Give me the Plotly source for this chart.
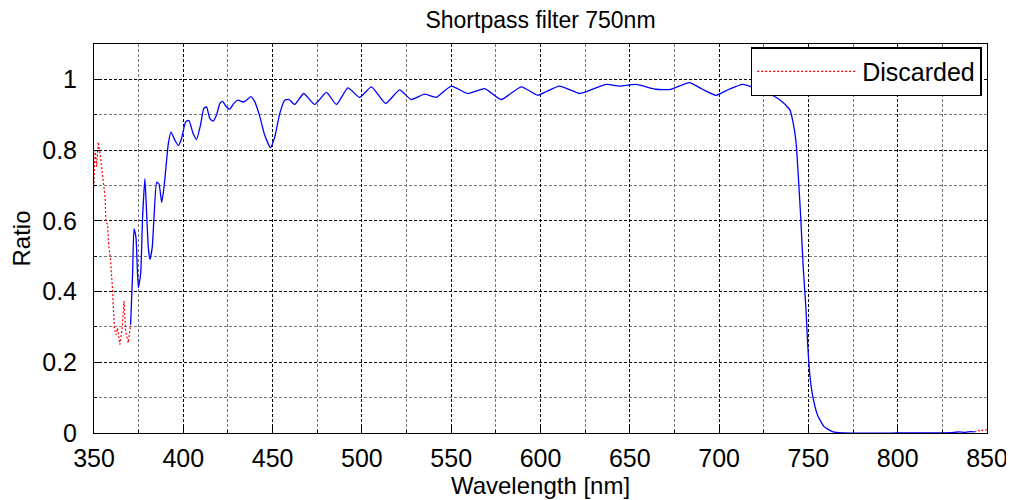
import plotly.graph_objects as go

# ---- data ----
blue_nm = [370.5, 371.6, 372.4, 373.5, 374.8, 376.1, 377.2, 378.5, 379.4, 380.4,
           381.3, 382.6, 383.6, 385.1, 386.4, 387.9, 389.2, 390.3, 391.6, 393.1,
           395.3, 397.2, 399.0, 401.3, 403.1, 405.5, 407.4, 409.6, 411.5, 413.0,
           414.9, 416.7, 418.6, 420.5, 422.0, 424.2, 426.1, 428.3, 430.7, 433.5,
           435.4, 437.8, 440.0, 442.9, 445.6, 448.8, 451.2, 454.0, 456.8, 459.2,
           462.4, 467.4, 473.6, 480.1, 485.7, 492.2, 498.7, 505.3, 513.3, 521.1,
           527.6, 535.1, 541.6, 550.0, 559.3, 568.7, 578.0, 589.2, 598.5, 603.1,
           610.6, 621.8, 624.6, 636.7, 644.1, 653.5, 664.6, 673.0, 683.3, 690.7,
           698.2, 705.6, 713.1, 720.6, 729.9, 735.5, 738.3, 739.7, 741.2, 743.0,
           744.5, 745.8, 747.1, 748.6, 749.5, 750.8, 752.3, 755.1, 758.8, 763.5,
           769.1, 800.0, 830.6, 834.0, 838.0, 841.0, 843.0]
blue_ratio = [0.307, 0.45, 0.577, 0.553, 0.411, 0.449, 0.61, 0.719, 0.629, 0.525,
              0.491, 0.525, 0.61, 0.709, 0.704, 0.652, 0.695, 0.752, 0.818, 0.851,
              0.828, 0.813, 0.832, 0.880, 0.884, 0.847, 0.830, 0.870, 0.918, 0.922,
              0.889, 0.882, 0.899, 0.932, 0.938, 0.922, 0.916, 0.932, 0.941, 0.936,
              0.941, 0.951, 0.937, 0.894, 0.842, 0.807, 0.837, 0.903, 0.941, 0.943,
              0.929, 0.960, 0.929, 0.963, 0.929, 0.976, 0.949, 0.979, 0.932, 0.970,
              0.943, 0.958, 0.949, 0.981, 0.960, 0.974, 0.943, 0.979, 0.955, 0.965,
              0.981, 0.960, 0.963, 0.986, 0.981, 0.986, 0.972, 0.972, 0.991, 0.972,
              0.955, 0.972, 0.986, 0.975, 0.955, 0.936, 0.922, 0.913, 0.884, 0.827,
              0.714, 0.600, 0.468, 0.354, 0.260, 0.164, 0.108, 0.051, 0.018, 0.004,
              0.0, 0.0, 0.001, 0.003, 0.002, 0.004, 0.003]

red_left_nm = [349.9, 350.6, 351.5, 352.4, 353.4, 354.3, 355.2, 356.2, 356.7, 357.6,
               358.2, 359.3, 360.3, 360.8, 361.4, 362.3, 363.2, 364.5, 365.8, 366.8,
               367.7, 369.2, 370.5]
red_left_ratio = [0.695, 0.80, 0.753, 0.823, 0.79, 0.75, 0.695, 0.667, 0.596, 0.59,
                  0.534, 0.487, 0.411, 0.363, 0.297, 0.278, 0.297, 0.25, 0.297, 0.373,
                  0.288, 0.255, 0.307]
red_right_nm = [843.0, 845.0, 846.5, 848.0, 850.0]
red_right_ratio = [0.003, 0.008, 0.004, 0.010, 0.008]

title_text = "Shortpass filter 750nm"
x_title = "Wavelength [nm]"
y_title = "Ratio"

FONT = "Liberation Sans, Arial, sans-serif"

fig = go.Figure()
fig.add_trace(go.Scatter(x=red_left_nm, y=red_left_ratio, mode="lines", name="Discarded",
                         line=dict(color="red", width=1.2, dash="2px,2px"),
                         legendgroup="d", showlegend=True))
fig.add_trace(go.Scatter(x=red_right_nm, y=red_right_ratio, mode="lines", name="Discarded",
                         line=dict(color="red", width=1.2, dash="2px,2px"),
                         legendgroup="d", showlegend=False))
fig.add_trace(go.Scatter(x=blue_nm, y=blue_ratio, mode="lines", name="Accepted",
                         line=dict(color="#0000ff", width=1.3, shape="spline", smoothing=0.5),
                         showlegend=False))

axis_common = dict(
    showline=True, linecolor="black", linewidth=1, mirror=True,
    ticks="inside", ticklen=6, tickcolor="black",
    showgrid=True, gridcolor="black", gridwidth=1.3, griddash="3px,2px",
    zeroline=False, automargin=False,
    tickfont=dict(family=FONT, size=25, color="black"),
    title_font=dict(family=FONT, size=24, color="black"),
)

fig.update_xaxes(range=[350, 850], tick0=350, dtick=50, title_text=x_title,
                 title_standoff=6, ticklabelstandoff=3,
                 minor=dict(dtick=25, showgrid=True, gridcolor="#777777", gridwidth=1,
                            griddash="3px,2px", ticks="inside", ticklen=3, tickcolor="black"),
                 **axis_common)
fig.update_yaxes(range=[0, 1.1], tick0=0, dtick=0.2, title_text=y_title,
                 title_standoff=12, ticklabelstandoff=11,
                 minor=dict(dtick=0.1, showgrid=True, gridcolor="#777777", gridwidth=1,
                            griddash="3px,2px", ticks="inside", ticklen=3, tickcolor="black"),
                 **axis_common)

# the page body has an 8px margin, so the figure is offset by (8, 8)
fig.update_layout(
    width=1006, height=492,
    margin=dict(l=86, r=27, t=36, b=67),
    paper_bgcolor="white", plot_bgcolor="white",
    title=dict(text=title_text, x=0.5, xref="paper", xanchor="center",
               y=1 - 4 / 492, yref="container", yanchor="top", pad=dict(t=0, b=0),
               font=dict(family=FONT, size=23, color="black")),
    legend=dict(x=0.994, xanchor="right", y=0.992, yanchor="top",
                bgcolor="white", bordercolor="black", borderwidth=1.5,
                font=dict(family=FONT, size=25, color="black"),
                itemwidth=100),
    showlegend=True,
)

fig.write_html("out.html")
